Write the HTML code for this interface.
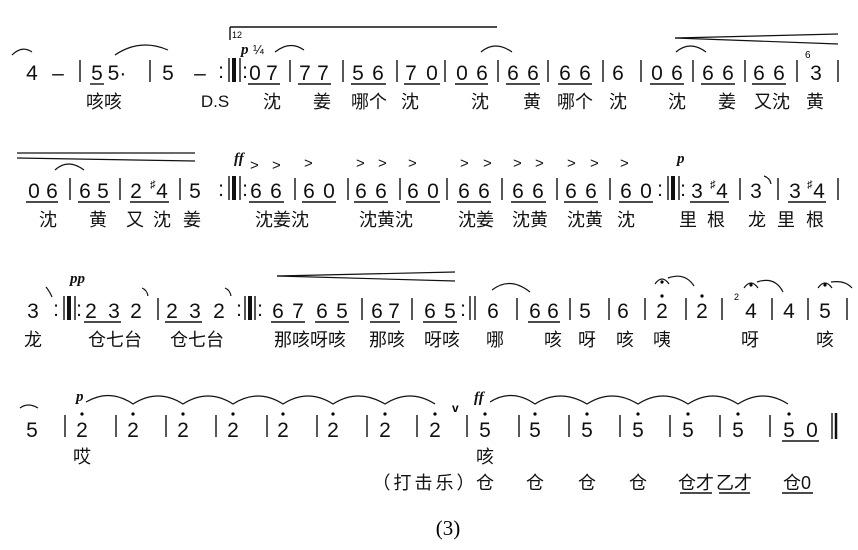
<!DOCTYPE html>
<html><head><meta charset="utf-8"><style>
html,body{margin:0;padding:0;background:#fff}
svg{display:block}
.n{font-family:"Liberation Sans",sans-serif;font-size:21px;fill:#111;text-anchor:middle}
.l{font-family:"Liberation Sans","Noto Sans CJK SC",sans-serif;font-size:18px;fill:#111;text-anchor:middle}
.d{font-family:"Liberation Serif",serif;font-style:italic;font-weight:bold;font-size:15px;fill:#111}
line{stroke:#111;stroke-width:1.4}
path{fill:none;stroke:#111;stroke-width:1.2}
.b line{stroke-width:1.4}
</style></head><body>
<svg width="858" height="550" viewBox="0 0 858 550" xmlns="http://www.w3.org/2000/svg">
<!-- ROW 1 -->
<path d="M12 55 Q22 45 32 52"/>
<text class="n" x="32" y="80">4</text><text class="n" x="58" y="80">–</text>
<line x1="80" y1="60" x2="80" y2="82"/>
<text class="n" x="97" y="80">5</text><line x1="90" y1="84" x2="104" y2="84"/>
<text class="n" x="117" y="80">5·</text>
<path d="M115 55 Q140 38 168 50"/>
<line x1="150" y1="60" x2="150" y2="82"/>
<text class="n" x="168" y="80">5</text><text class="n" x="200" y="80">–</text>
<text class="n" x="221" y="78">:</text>
<line x1="229" y1="58" x2="229" y2="82"/><line x1="234" y1="58" x2="234" y2="82" style="stroke-width:4"/><line x1="240" y1="58" x2="240" y2="82"/>
<text class="n" x="245" y="78">:</text>
<line x1="230" y1="27" x2="497" y2="27"/><line x1="230" y1="27" x2="230" y2="40"/>
<text x="232" y="38" style="font-family:Liberation Sans;font-size:9px">12</text>
<text class="d" x="241" y="54">p</text><text x="253" y="54" style="font-family:Liberation Sans;font-size:13px">¼</text>
<path d="M275 52 Q290 40 304 50"/>
<text class="n" x="255" y="80">0</text><text class="n" x="272" y="80">7</text><line x1="248" y1="84" x2="280" y2="84"/>
<line x1="290" y1="60" x2="290" y2="82"/>
<text class="n" x="305" y="80">7</text><text class="n" x="323" y="80">7</text><line x1="298" y1="84" x2="331" y2="84"/>
<line x1="343" y1="60" x2="343" y2="82"/>
<text class="n" x="358" y="80">5</text><text class="n" x="378" y="80">6</text><line x1="351" y1="84" x2="386" y2="84"/>
<line x1="397" y1="60" x2="397" y2="82"/>
<text class="n" x="411" y="80">7</text><text class="n" x="432" y="80">0</text><line x1="404" y1="84" x2="440" y2="84"/>
<line x1="445" y1="60" x2="445" y2="82"/>
<text class="n" x="462" y="80">0</text><text class="n" x="482" y="80">6</text><line x1="455" y1="84" x2="488" y2="84"/>
<path d="M481 52 Q495 40 512 52"/>
<line x1="498" y1="60" x2="498" y2="82"/>
<text class="n" x="513" y="80">6</text><text class="n" x="533" y="80">6</text><line x1="506" y1="84" x2="540" y2="84"/>
<line x1="548" y1="60" x2="548" y2="82"/>
<text class="n" x="565" y="80">6</text><text class="n" x="585" y="80">6</text><line x1="558" y1="84" x2="592" y2="84"/>
<line x1="603" y1="60" x2="603" y2="82"/>
<text class="n" x="618" y="80">6</text>
<line x1="641" y1="60" x2="641" y2="82"/>
<text class="n" x="657" y="80">0</text><text class="n" x="677" y="80">6</text><line x1="650" y1="84" x2="684" y2="84"/>
<path d="M676 52 Q690 40 706 52"/>
<line x1="693" y1="60" x2="693" y2="82"/>
<text class="n" x="708" y="80">6</text><text class="n" x="728" y="80">6</text><line x1="701" y1="84" x2="735" y2="84"/>
<line x1="745" y1="60" x2="745" y2="82"/>
<text class="n" x="759" y="80">6</text><text class="n" x="779" y="80">6</text><line x1="752" y1="84" x2="786" y2="84"/>
<line x1="797" y1="60" x2="797" y2="82"/>
<text x="805" y="58" style="font-family:Liberation Sans;font-size:10px">6</text>
<text class="n" x="816" y="80">3</text>
<line x1="838" y1="60" x2="838" y2="82"/>
<line x1="675" y1="38" x2="838" y2="34" style="stroke-width:1.2"/><line x1="675" y1="38" x2="838" y2="44" style="stroke-width:1.2"/>
<text class="l" x="104" y="108">咳咳</text>
<text class="n" x="215" y="107" style="font-size:17px">D.S</text>
<text class="l" x="272" y="108">沈</text><text class="l" x="322" y="108">姜</text><text class="l" x="369" y="108">哪个</text><text class="l" x="410" y="108">沈</text>
<text class="l" x="480" y="108">沈</text><text class="l" x="532" y="108">黄</text><text class="l" x="575" y="108">哪个</text><text class="l" x="618" y="108">沈</text>
<text class="l" x="677" y="108">沈</text><text class="l" x="727" y="108">姜</text><text class="l" x="772" y="108">又沈</text><text class="l" x="815" y="108">黄</text>

<!-- ROW 2 -->
<line x1="17" y1="153" x2="195" y2="153" style="stroke-width:1.2"/><line x1="17" y1="158" x2="195" y2="161" style="stroke-width:1.2"/>
<text class="n" x="34" y="198">0</text><text class="n" x="52" y="198">6</text><line x1="26" y1="202" x2="58" y2="202"/>
<path d="M55 170 Q68 158 84 170"/>
<line x1="70" y1="178" x2="70" y2="200"/>
<text class="n" x="85" y="198">6</text><text class="n" x="103" y="198">5</text><line x1="78" y1="202" x2="110" y2="202"/>
<line x1="120" y1="178" x2="120" y2="200"/>
<text class="n" x="136" y="198">2</text><text x="150" y="188" style="font-family:Liberation Sans;font-size:11px">♯</text><text class="n" x="162" y="198">4</text><line x1="130" y1="202" x2="169" y2="202"/>
<line x1="180" y1="178" x2="180" y2="200"/>
<text class="n" x="195" y="198">5</text>
<text class="n" x="221" y="196">:</text>
<line x1="229" y1="176" x2="229" y2="200"/><line x1="234" y1="176" x2="234" y2="200" style="stroke-width:4"/><line x1="240" y1="176" x2="240" y2="200"/>
<text class="n" x="245" y="196">:</text>
<text class="d" x="234" y="163">ff</text>
<g style="font-family:Liberation Sans;font-size:15px;fill:#111">
<text x="250" y="170">&gt;</text><text x="272" y="170">&gt;</text><text x="304" y="168">&gt;</text><text x="356" y="168">&gt;</text><text x="378" y="168">&gt;</text><text x="408" y="168">&gt;</text>
<text x="460" y="168">&gt;</text><text x="483" y="168">&gt;</text><text x="513" y="168">&gt;</text><text x="535" y="168">&gt;</text><text x="567" y="168">&gt;</text><text x="590" y="168">&gt;</text><text x="620" y="168">&gt;</text>
</g>
<text class="n" x="256" y="198">6</text><text class="n" x="276" y="198">6</text><line x1="249" y1="202" x2="284" y2="202"/>
<line x1="295" y1="178" x2="295" y2="200"/>
<text class="n" x="309" y="198">6</text><text class="n" x="329" y="198">0</text><line x1="302" y1="202" x2="336" y2="202"/>
<line x1="348" y1="178" x2="348" y2="200"/>
<text class="n" x="361" y="198">6</text><text class="n" x="381" y="198">6</text><line x1="354" y1="202" x2="388" y2="202"/>
<line x1="400" y1="178" x2="400" y2="200"/>
<text class="n" x="413" y="198">6</text><text class="n" x="433" y="198">0</text><line x1="406" y1="202" x2="440" y2="202"/>
<line x1="447" y1="178" x2="447" y2="200"/>
<text class="n" x="464" y="198">6</text><text class="n" x="484" y="198">6</text><line x1="457" y1="202" x2="491" y2="202"/>
<line x1="502" y1="178" x2="502" y2="200"/>
<text class="n" x="518" y="198">6</text><text class="n" x="538" y="198">6</text><line x1="511" y1="202" x2="546" y2="202"/>
<line x1="557" y1="178" x2="557" y2="200"/>
<text class="n" x="571" y="198">6</text><text class="n" x="591" y="198">6</text><line x1="564" y1="202" x2="598" y2="202"/>
<line x1="610" y1="178" x2="610" y2="200"/>
<text class="n" x="626" y="198">6</text><text class="n" x="646" y="198">0</text><line x1="619" y1="202" x2="653" y2="202"/>
<text class="n" x="660" y="196">:</text>
<line x1="668" y1="176" x2="668" y2="200"/><line x1="673" y1="176" x2="673" y2="200" style="stroke-width:4"/><line x1="679" y1="176" x2="679" y2="200"/>
<text class="n" x="683" y="196">:</text>
<text class="d" x="677" y="163">p</text>
<text class="n" x="697" y="198">3</text><text x="710" y="188" style="font-family:Liberation Sans;font-size:11px">♯</text><text class="n" x="722" y="198">4</text><line x1="690" y1="202" x2="729" y2="202"/>
<line x1="740" y1="178" x2="740" y2="200"/>
<text class="n" x="756" y="198">3</text><path d="M764 176 Q770 178 771 184"/>
<line x1="778" y1="178" x2="778" y2="200"/>
<text class="n" x="795" y="198">3</text><text x="807" y="188" style="font-family:Liberation Sans;font-size:11px">♯</text><text class="n" x="819" y="198">4</text><line x1="788" y1="202" x2="826" y2="202"/>
<line x1="838" y1="178" x2="838" y2="200"/>
<text class="l" x="48" y="226">沈</text><text class="l" x="98" y="226">黄</text><text class="l" x="135" y="226">又</text><text class="l" x="162" y="226">沈</text><text class="l" x="192" y="226">姜</text>
<text class="l" x="282" y="226">沈姜沈</text><text class="l" x="386" y="226">沈黄沈</text><text class="l" x="476" y="226">沈姜</text><text class="l" x="530" y="226">沈黄</text><text class="l" x="585" y="226">沈黄</text><text class="l" x="626" y="226">沈</text>
<text class="l" x="688" y="226">里</text><text class="l" x="716" y="226">根</text><text class="l" x="757" y="226">龙</text><text class="l" x="786" y="226">里</text><text class="l" x="815" y="226">根</text>

<!-- ROW 3 -->
<text class="n" x="33" y="318">3</text><path d="M46 287 Q50 292 52 297"/>
<text class="n" x="56" y="316">:</text>
<line x1="64" y1="296" x2="64" y2="320"/><line x1="69" y1="296" x2="69" y2="320" style="stroke-width:4"/><line x1="75" y1="296" x2="75" y2="320"/>
<text class="n" x="79" y="316">:</text>
<text class="d" x="70" y="283">pp</text>
<text class="n" x="91" y="318">2</text><text class="n" x="114" y="318">3</text><line x1="84" y1="322" x2="121" y2="322"/>
<text class="n" x="136" y="318">2</text><path d="M142 288 Q147 290 148 296"/>
<line x1="158" y1="298" x2="158" y2="320"/>
<text class="n" x="172" y="318">2</text><text class="n" x="195" y="318">3</text><line x1="165" y1="322" x2="202" y2="322"/>
<text class="n" x="219" y="318">2</text><path d="M225 288 Q230 290 231 296"/>
<text class="n" x="239" y="316">:</text>
<line x1="245" y1="296" x2="245" y2="320"/><line x1="250" y1="296" x2="250" y2="320" style="stroke-width:4"/><line x1="255" y1="296" x2="255" y2="320"/>
<text class="n" x="260" y="316">:</text>
<line x1="277" y1="276" x2="455" y2="272" style="stroke-width:1.2"/><line x1="277" y1="276" x2="455" y2="281" style="stroke-width:1.2"/>
<text class="n" x="278" y="318">6</text><text class="n" x="298" y="318">7</text><line x1="271" y1="322" x2="305" y2="322"/>
<text class="n" x="322" y="318">6</text><text class="n" x="342" y="318">5</text><line x1="315" y1="322" x2="349" y2="322"/>
<line x1="362" y1="298" x2="362" y2="320"/>
<text class="n" x="377" y="318">6</text><text class="n" x="394" y="318">7</text><line x1="370" y1="322" x2="400" y2="322"/>
<line x1="412" y1="298" x2="412" y2="320"/>
<text class="n" x="430" y="318">6</text><text class="n" x="450" y="318">5</text><line x1="423" y1="322" x2="457" y2="322"/>
<text class="n" x="463" y="316">:</text>
<line x1="470" y1="296" x2="470" y2="320"/><line x1="475" y1="296" x2="475" y2="320"/>
<text class="n" x="493" y="318">6</text><path d="M492 290 Q510 276 530 292"/>
<line x1="517" y1="298" x2="517" y2="320"/>
<text class="n" x="535" y="318">6</text><text class="n" x="553" y="318">6</text><line x1="528" y1="322" x2="560" y2="322"/>
<line x1="570" y1="298" x2="570" y2="320"/>
<text class="n" x="585" y="318">5</text>
<line x1="609" y1="298" x2="609" y2="320"/>
<text class="n" x="623" y="318">6</text>
<line x1="645" y1="298" x2="645" y2="320"/>
<text class="n" x="662" y="318">2</text><circle cx="662" cy="296" r="1.6"/>
<path d="M655 284 Q662 274 669 284"/><circle cx="662" cy="282" r="1.6"/><path d="M668 278 Q685 272 694 286"/>
<line x1="686" y1="298" x2="686" y2="320"/>
<text class="n" x="702" y="318">2</text><circle cx="702" cy="296" r="1.6"/>
<line x1="722" y1="298" x2="722" y2="320"/>
<text x="734" y="300" style="font-family:Liberation Sans;font-size:9px">2</text>
<text class="n" x="751" y="318">4</text>
<path d="M744 288 Q751 278 758 288"/><circle cx="751" cy="285" r="1.6"/><path d="M757 282 Q775 276 783 292"/>
<line x1="772" y1="298" x2="772" y2="320"/>
<text class="n" x="789" y="318">4</text>
<line x1="808" y1="298" x2="808" y2="320"/>
<text class="n" x="825" y="318">5</text>
<path d="M818 288 Q825 278 832 288"/><circle cx="825" cy="285" r="1.6"/><path d="M831 282 Q845 280 852 288"/>
<line x1="847" y1="298" x2="847" y2="320"/>
<text class="l" x="33" y="346">龙</text>
<text class="l" x="115" y="346">仓七台</text><text class="l" x="197" y="346">仓七台</text>
<text class="l" x="310" y="346">那咳呀咳</text><text class="l" x="387" y="346">那咳</text><text class="l" x="442" y="346">呀咳</text>
<text class="l" x="495" y="346">哪</text><text class="l" x="553" y="346">咳</text><text class="l" x="587" y="346">呀</text><text class="l" x="625" y="346">咳</text><text class="l" x="662" y="346">咦</text>
<text class="l" x="750" y="346">呀</text><text class="l" x="825" y="346">咳</text>

<!-- ROW 4 -->
<path d="M20 408 Q28 402 38 408"/>
<text class="n" x="32" y="437">5</text>
<line x1="65" y1="415" x2="65" y2="437"/>
<text class="d" x="76" y="401">p</text>
<path d="M86 402 Q110 388 133 404 Q158 388 183 404 Q208 388 233 404 Q258 388 283 404 Q308 388 333 404 Q358 388 385 404 Q410 388 435 404"/>
<text class="n" x="82" y="437">2</text><circle cx="82" cy="414" r="1.6"/>
<line x1="116" y1="415" x2="116" y2="437"/>
<text class="n" x="133" y="437">2</text><circle cx="133" cy="414" r="1.6"/>
<line x1="166" y1="415" x2="166" y2="437"/>
<text class="n" x="183" y="437">2</text><circle cx="183" cy="414" r="1.6"/>
<line x1="216" y1="415" x2="216" y2="437"/>
<text class="n" x="233" y="437">2</text><circle cx="233" cy="414" r="1.6"/>
<line x1="267" y1="415" x2="267" y2="437"/>
<text class="n" x="283" y="437">2</text><circle cx="283" cy="414" r="1.6"/>
<line x1="317" y1="415" x2="317" y2="437"/>
<text class="n" x="333" y="437">2</text><circle cx="333" cy="414" r="1.6"/>
<line x1="367" y1="415" x2="367" y2="437"/>
<text class="n" x="385" y="437">2</text><circle cx="385" cy="414" r="1.6"/>
<line x1="417" y1="415" x2="417" y2="437"/>
<text class="n" x="435" y="437">2</text><circle cx="435" cy="414" r="1.6"/>
<text x="452" y="412" style="font-family:Liberation Sans;font-size:12px;font-weight:bold">v</text>
<line x1="467" y1="415" x2="467" y2="437"/>
<text class="d" x="474" y="402">ff</text>
<path d="M490 402 Q512 388 535 404 Q560 388 587 404 Q612 388 638 404 Q663 388 688 404 Q713 388 738 404 Q763 388 788 404"/>
<text class="n" x="485" y="437">5</text><circle cx="485" cy="414" r="1.6"/>
<line x1="519" y1="415" x2="519" y2="437"/>
<text class="n" x="535" y="437">5</text><circle cx="535" cy="414" r="1.6"/>
<line x1="569" y1="415" x2="569" y2="437"/>
<text class="n" x="587" y="437">5</text><circle cx="587" cy="414" r="1.6"/>
<line x1="620" y1="415" x2="620" y2="437"/>
<text class="n" x="638" y="437">5</text><circle cx="638" cy="414" r="1.6"/>
<line x1="670" y1="415" x2="670" y2="437"/>
<text class="n" x="688" y="437">5</text><circle cx="688" cy="414" r="1.6"/>
<line x1="720" y1="415" x2="720" y2="437"/>
<text class="n" x="738" y="437">5</text><circle cx="738" cy="414" r="1.6"/>
<line x1="770" y1="415" x2="770" y2="437"/>
<text class="n" x="789" y="437">5</text><circle cx="789" cy="414" r="1.6"/><text class="n" x="812" y="437">0</text>
<line x1="782" y1="441" x2="819" y2="441"/>
<line x1="832" y1="413" x2="832" y2="439"/><line x1="836" y1="413" x2="836" y2="439" style="stroke-width:2.5"/>
<text class="l" x="82" y="463">哎</text><text class="l" x="485" y="463">咳</text>
<text class="l" x="425" y="489" style="letter-spacing:3px">（打击乐）</text>
<text class="l" x="485" y="489">仓</text><text class="l" x="535" y="489">仓</text><text class="l" x="587" y="489">仓</text><text class="l" x="638" y="489">仓</text>
<text class="l" x="696" y="489">仓才</text><line x1="680" y1="493" x2="712" y2="493"/>
<text class="l" x="734" y="489">乙才</text><line x1="719" y1="493" x2="750" y2="493"/>
<text class="l" x="797" y="489">仓0</text><line x1="782" y1="493" x2="813" y2="493"/>
<text x="448" y="535" style="font-family:'Liberation Serif',serif;font-size:21px;text-anchor:middle">(3)</text>
</svg>
</body></html>
